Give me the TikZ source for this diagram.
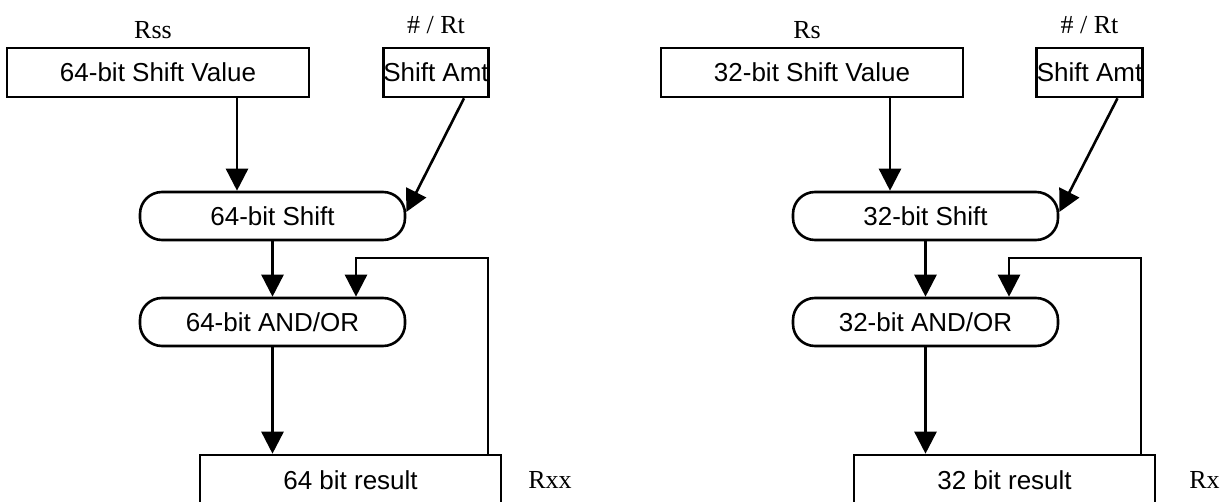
\documentclass[tikz,border=0pt]{standalone}
\usepackage{fontspec}
\setmainfont{Liberation Sans}
\newfontfamily\tnr{Liberation Serif}
\usetikzlibrary{arrows.meta}
\begin{document}
\begin{tikzpicture}[x=0.5pt,y=-0.5pt,line width=1.3pt,
  box/.style={draw,rectangle,minimum height=24.5pt,inner sep=0pt,font=\fontsize{13pt}{15pt}\selectfont},
  pill/.style={draw,rectangle,rounded corners=11pt,minimum width=132.5pt,minimum height=24pt,inner sep=0pt,font=\fontsize{13pt}{15pt}\selectfont},
  reg/.style={inner sep=0pt,font=\tnr\fontsize{13pt}{15pt}\selectfont},
  arr/.style={-{Triangle[length=11pt,width=11pt]}}]
\useasboundingbox (0,0) rectangle (1226,502);
% ---------- left ----------
\node[box,minimum width=151pt] (lval) at (158,72.5) {64-bit Shift Value};
\node[box,minimum width=50pt] (lamt) at (436,72.5) {Shift Amt};
\node[reg] (lrss) at (153,30) {Rss};
\node[reg] (lrt) at (436,25) {\# / Rt};
\node[pill] (lsh) at (272.5,216) {64-bit Shift};
\node[pill] (lao) at (272.5,322) {64-bit AND/OR};
\node[box,minimum width=150.5pt,minimum height=25pt] (lres) at (350.5,480) {64 bit result};
\node[reg,anchor=west] (lrxx) at (527,480) {Rxx};
\coordinate (lfb) at (356,258);
\draw[arr] (lval.south -| 237,0) -- (lsh.north -| 237,0);
\draw[arr] ([xshift=14pt]lamt.south) -- ([yshift=2pt]lsh.east);
\draw[arr] (lsh.south) -- (lao.north);
\draw[arr] (lao.south -| lsh.south) -- (lres.north -| lsh.south);
\draw[arr] (lres.north -| 488,0) |- (lfb) -- (lao.north -| lfb);
% ---------- right ----------
\node[box,minimum width=151pt] (rval) at (812,72.5) {32-bit Shift Value};
\node[box,minimum width=50pt] (ramt) at (1089.5,72.5) {Shift Amt};
\node[reg] (rrs) at (807,30) {Rs};
\node[reg] (rrt) at (1089.5,25) {\# / Rt};
\node[pill] (rsh) at (925.5,216) {32-bit Shift};
\node[pill] (rao) at (925.5,322) {32-bit AND/OR};
\node[box,minimum width=150.5pt,minimum height=25pt] (rres) at (1004.5,480) {32 bit result};
\node[reg,anchor=west] (rrx) at (1188,480) {Rx};
\coordinate (rfb) at (1009,258);
\draw[arr] (rval.south -| 890,0) -- (rsh.north -| 890,0);
\draw[arr] ([xshift=14pt]ramt.south) -- ([yshift=2pt]rsh.east);
\draw[arr] (rsh.south) -- (rao.north);
\draw[arr] (rao.south -| rsh.south) -- (rres.north -| rsh.south);
\draw[arr] (rres.north -| 1141,0) |- (rfb) -- (rao.north -| rfb);
\end{tikzpicture}
\end{document}
